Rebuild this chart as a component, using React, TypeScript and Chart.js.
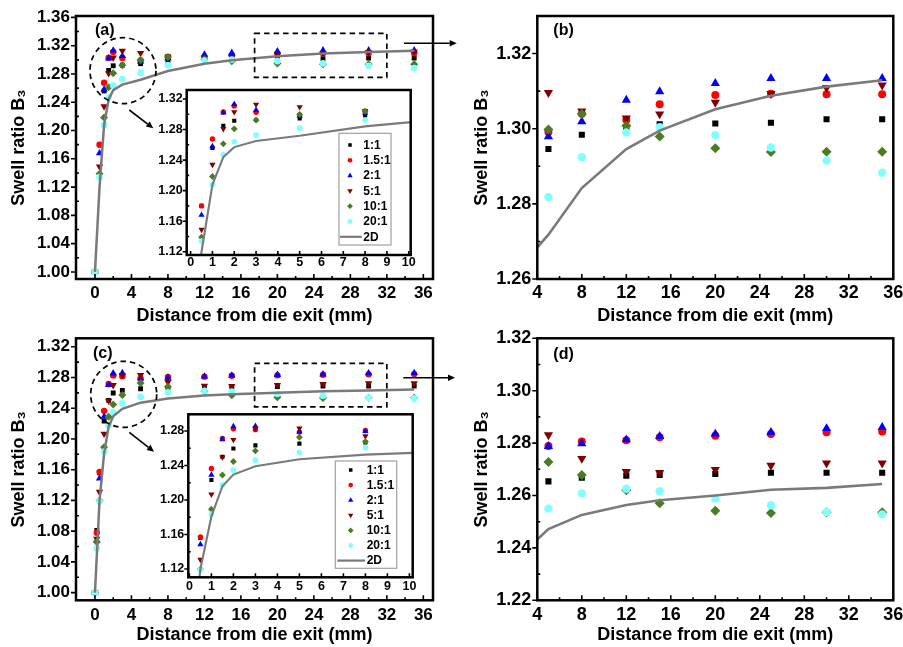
import React, { useEffect, useRef } from 'react';
import { Chart, registerables } from 'chart.js';

Chart.register(...registerables);

// ---------------- data ----------------
const SERIES_NAMES = ['1:1', '1.5:1', '2:1', '5:1', '10:1', '20:1'];
const LINE_NAME = '2D';

// upper row (a)/(b)
const X_TOP = [0, 0.5, 1, 1.5, 2, 3, 5, 8, 12, 15, 20, 25, 30, 35];
const TOP_1_1 = [1.0, 1.18, 1.256, 1.285, 1.2916, 1.2925, 1.2946, 1.2984, 1.3004, 1.3012, 1.3014, 1.3016, 1.3025, 1.3025];
const TOP_15_1 = [1.0, 1.18, 1.2676, 1.3031, 1.311, 1.3027, 1.2991, 1.304, 1.3024, 1.3065, 1.309, 1.3093, 1.3092, 1.3092];
const TOP_2_1 = [1.0, 1.168, 1.258, 1.302, 1.3133, 1.3055, 1.2979, 1.3019, 1.3076, 1.3099, 1.3121, 1.3134, 1.3134, 1.3134];
const TOP_5_1 = [1.0, 1.149, 1.234, 1.281, 1.303, 1.3128, 1.3096, 1.3047, 1.3028, 1.3039, 1.307, 1.3093, 1.3109, 1.3116];
const TOP_10_1 = [1.0, 1.139, 1.2185, 1.2613, 1.281, 1.2923, 1.2998, 1.3039, 1.3008, 1.2979, 1.2948, 1.2938, 1.2939, 1.2939];
const TOP_20_1 = [1.0, 1.134, 1.208, 1.247, 1.264, 1.2728, 1.2818, 1.2924, 1.299, 1.3004, 1.2983, 1.295, 1.2915, 1.2883];

// lower row (c)/(d)
const X_BOT = [0, 0.2, 0.5, 1, 1.5, 2, 3, 5, 8, 12, 15, 20, 25, 30, 35];
const BOT_1_1 = [1.0, 1.081, 1.156, 1.2232, 1.2502, 1.2598, 1.2633, 1.2654, 1.2668, 1.2676, 1.2678, 1.2682, 1.2687, 1.2687, 1.2687];
const BOT_15_1 = [1.0, 1.078, 1.1572, 1.2366, 1.2715, 1.2827, 1.2816, 1.2789, 1.2806, 1.2811, 1.2822, 1.2828, 1.2835, 1.2841, 1.2844];
const BOT_2_1 = [1.0, 1.068, 1.1486, 1.2292, 1.2703, 1.2854, 1.2858, 1.2788, 1.2798, 1.2813, 1.2826, 1.2835, 1.2841, 1.2856, 1.286];
const BOT_5_1 = [1.0, 1.07, 1.131, 1.2066, 1.2496, 1.2699, 1.2831, 1.2831, 1.2741, 1.2691, 1.2687, 1.2699, 1.2715, 1.2723, 1.2723];
const BOT_10_1 = [1.0, 1.066, 1.12, 1.1893, 1.229, 1.2447, 1.2571, 1.2728, 1.2678, 1.262, 1.257, 1.2542, 1.2533, 1.2536, 1.2536];
const BOT_20_1 = [1.0, 1.058, 1.119, 1.1836, 1.2176, 1.2346, 1.2462, 1.255, 1.2608, 1.2626, 1.2616, 1.2588, 1.2563, 1.2537, 1.2528];

// 2D simulation curves
const X_2D = [0, 0.5, 1, 1.5, 2, 3, 5, 8, 12, 15, 20, 25, 30, 35];
const TOP_2D = [1.0, 1.12, 1.208, 1.244, 1.257, 1.265, 1.2718, 1.2842, 1.2946, 1.2995, 1.3052, 1.3088, 1.3112, 1.3129];
const BOT_2D = [1.0, 1.12, 1.181, 1.216, 1.2295, 1.2392, 1.2472, 1.2526, 1.2564, 1.2582, 1.26, 1.2622, 1.2629, 1.2644];

// tick labels
const MAIN_X_TICKS = [0, 4, 8, 12, 16, 20, 24, 28, 32, 36];
const ZOOM_X_TICKS = [4, 8, 12, 16, 20, 24, 28, 32, 36];
const INSET_X_TICKS = [0, 1, 2, 3, 4, 5, 6, 7, 8, 9, 10];
const A_Y_TICKS = [1.0, 1.04, 1.08, 1.12, 1.16, 1.2, 1.24, 1.28, 1.32, 1.36];
const C_Y_TICKS = [1.0, 1.04, 1.08, 1.12, 1.16, 1.2, 1.24, 1.28, 1.32];
const B_Y_TICKS = [1.26, 1.28, 1.3, 1.32];
const D_Y_TICKS = [1.22, 1.24, 1.26, 1.28, 1.3, 1.32];
const INSET_A_Y_TICKS = [1.12, 1.16, 1.2, 1.24, 1.28, 1.32];
const INSET_C_Y_TICKS = [1.12, 1.16, 1.2, 1.24, 1.28];

const X_TITLE = 'Distance from die exit (mm)';
const Y_TITLE = 'Swell ratio B\u2083';

const TOP_SERIES = [TOP_1_1, TOP_15_1, TOP_2_1, TOP_5_1, TOP_10_1, TOP_20_1];
const BOT_SERIES = [BOT_1_1, BOT_15_1, BOT_2_1, BOT_5_1, BOT_10_1, BOT_20_1];

// ---------------- styles ----------------
const FONT = '"Liberation Sans", Arial, Helvetica, sans-serif';
const LINE_COLOR = '#7a7a7a';
type Sty = { color: string; shape: string; rot: number; r: number };
const STYLES: Sty[] = [
  { color: '#000000', shape: 'rect', rot: 0, r: 4.3 },
  { color: '#ff0000', shape: 'circle', rot: 0, r: 4.0 },
  { color: '#0000ff', shape: 'triangle', rot: 0, r: 5.3 },
  { color: '#800000', shape: 'triangle', rot: 180, r: 5.3 },
  { color: '#4a7d23', shape: 'rectRot', rot: 0, r: 5.0 },
  { color: '#80ffff', shape: 'circle', rot: 0, r: 4.2 },
];

interface Deco {
  label?: { text: string; x: number; y: number; size: number };
  rect?: { x1: number; y1: number; x2: number; y2: number };
  circle?: { cx: number; cy: number; r: number };
  arrows?: number[][];
  legend?: { bx: number; by: number; bw: number; bh: number; row0: number; step: number; symX: number; textX: number; lx1: number; lx2: number };
  whiteBg?: boolean;
}

interface PanelDef {
  id: string;
  left: number; top: number; w: number; h: number;
  padTop: number; padRight: number; yW: number; xH: number;
  xMin: number; xMax: number; yMin: number; yMax: number;
  xTicks: number[]; yTicks: number[];
  tickSize: number; xLabPad: number; yLabPad: number;
  titles: boolean; yTitlePad: number; xTitlePad: number;
  ms: number; lineW: number; majorLen: number; minorLen: number; frameW: number;
  xMinor: boolean;
  xs: number[]; series: number[][]; lineYs: number[];
  deco: Deco;
}

function mids(arr: number[]): number[] {
  const out: number[] = [];
  for (let i = 0; i < arr.length - 1; i++) out.push((arr[i] + arr[i + 1]) / 2);
  return out;
}

function drawMarker(ctx: CanvasRenderingContext2D, s: Sty, x: number, y: number, r: number) {
  ctx.fillStyle = s.color;
  ctx.beginPath();
  if (s.shape === 'rect') {
    const q = r * Math.SQRT1_2;
    ctx.rect(x - q, y - q, 2 * q, 2 * q);
  } else if (s.shape === 'circle') {
    ctx.arc(x, y, r, 0, Math.PI * 2);
  } else if (s.shape === 'triangle') {
    const sg = s.rot ? -1 : 1;
    ctx.moveTo(x, y - sg * r);
    ctx.lineTo(x + r * 0.866, y + (sg * r) / 2);
    ctx.lineTo(x - r * 0.866, y + (sg * r) / 2);
    ctx.closePath();
  } else {
    ctx.moveTo(x, y - r);
    ctx.lineTo(x + r, y);
    ctx.lineTo(x, y + r);
    ctx.lineTo(x - r, y);
    ctx.closePath();
  }
  ctx.fill();
}

function arrow(ctx: CanvasRenderingContext2D, x1: number, y1: number, x2: number, y2: number) {
  const head = 7, hw = 3.2;
  const a = Math.atan2(y2 - y1, x2 - x1);
  const c = Math.cos(a), s = Math.sin(a);
  ctx.beginPath();
  ctx.moveTo(x1, y1);
  ctx.lineTo(x2 - head * c, y2 - head * s);
  ctx.stroke();
  ctx.beginPath();
  ctx.moveTo(x2, y2);
  ctx.lineTo(x2 - head * c + hw * s, y2 - head * s - hw * c);
  ctx.lineTo(x2 - head * c - hw * s, y2 - head * s + hw * c);
  ctx.closePath();
  ctx.fill();
}

function makeConfig(p: PanelDef): any {
  const datasets: any[] = p.series.map((vals, i) => ({
    type: 'scatter',
    label: SERIES_NAMES[i],
    data: p.xs
      .map((x, j) => ({ x, y: vals[j] }))
      .filter((pt) => pt.x >= p.xMin && pt.x <= p.xMax && pt.y >= p.yMin && pt.y <= p.yMax),
    pointStyle: STYLES[i].shape,
    pointRotation: STYLES[i].rot,
    pointRadius: STYLES[i].r * p.ms,
    pointHoverRadius: STYLES[i].r * p.ms,
    pointBackgroundColor: STYLES[i].color,
    pointBorderColor: STYLES[i].color,
    pointBorderWidth: 0,
    backgroundColor: STYLES[i].color,
    borderColor: STYLES[i].color,
    showLine: false,
    order: 10 - i,
  }));
  datasets.push({
    type: 'line',
    label: LINE_NAME,
    data: X_2D.map((x, j) => ({ x, y: p.lineYs[j] })),
    borderColor: LINE_COLOR,
    borderWidth: p.lineW,
    pointRadius: 0,
    fill: false,
    tension: 0,
    order: 0,
  });

  const tickFont = { family: FONT, size: p.tickSize, weight: 'bold' as const };
  const titleFont = { family: FONT, size: 18, weight: 'bold' as const, lineHeight: 1 };
  const d = p.deco;

  const decoPlugin = {
    id: 'deco_' + p.id,
    beforeDatasetsDraw(chart: any) {
      if (!d.whiteBg) return;
      const a = chart.chartArea;
      const ctx = chart.ctx;
      ctx.save();
      ctx.fillStyle = '#ffffff';
      ctx.fillRect(a.left, a.top, a.right - a.left, a.bottom - a.top);
      ctx.restore();
    },
    afterDatasetsDraw(chart: any) {
      const ctx: CanvasRenderingContext2D = chart.ctx;
      const a = chart.chartArea;
      const xs = chart.scales.x;
      const ys = chart.scales.y;
      ctx.save();
      ctx.strokeStyle = '#000';
      ctx.fillStyle = '#000';
      // dashed zoom box and circle
      if (d.rect || d.circle) {
        ctx.lineWidth = 1.7;
        ctx.setLineDash([5.5, 4]);
        if (d.rect) {
          const x1 = xs.getPixelForValue(d.rect.x1), x2 = xs.getPixelForValue(d.rect.x2);
          const y1 = ys.getPixelForValue(d.rect.y1), y2 = ys.getPixelForValue(d.rect.y2);
          ctx.strokeRect(x1, y1, x2 - x1, y2 - y1);
        }
        if (d.circle) {
          ctx.beginPath();
          ctx.arc(xs.getPixelForValue(d.circle.cx), ys.getPixelForValue(d.circle.cy), d.circle.r, 0, Math.PI * 2);
          ctx.stroke();
        }
        ctx.setLineDash([]);
      }
      // ticks
      ctx.lineWidth = 1.6;
      ctx.beginPath();
      for (const v of p.xTicks) {
        const px = xs.getPixelForValue(v);
        if (px < a.left - 0.5 || px > a.right + 0.5) continue;
        ctx.moveTo(px, a.bottom);
        ctx.lineTo(px, a.bottom - p.majorLen);
      }
      if (p.xMinor) {
        for (const v of mids(p.xTicks)) {
          const px = xs.getPixelForValue(v);
          ctx.moveTo(px, a.bottom);
          ctx.lineTo(px, a.bottom - p.minorLen);
        }
      }
      for (const v of p.yTicks) {
        const py = ys.getPixelForValue(v);
        ctx.moveTo(a.left, py);
        ctx.lineTo(a.left - p.majorLen, py);
      }
      for (const v of mids(p.yTicks)) {
        const py = ys.getPixelForValue(v);
        ctx.moveTo(a.left, py);
        ctx.lineTo(a.left + p.minorLen, py);
      }
      ctx.stroke();
      // frame
      ctx.lineWidth = p.frameW;
      ctx.strokeRect(a.left, a.top, a.right - a.left, a.bottom - a.top);
      // arrows
      if (d.arrows) {
        ctx.lineWidth = 1.6;
        for (const ar of d.arrows) arrow(ctx, ar[0], ar[1], ar[2], ar[3]);
      }
      // panel label
      if (d.label) {
        ctx.font = `bold ${d.label.size}px ${FONT}`;
        ctx.textAlign = 'left';
        ctx.textBaseline = 'alphabetic';
        ctx.fillText(d.label.text, d.label.x, d.label.y);
      }
      // legend
      if (d.legend) {
        const L = d.legend;
        ctx.fillStyle = '#ffffff';
        ctx.fillRect(L.bx, L.by, L.bw, L.bh);
        ctx.strokeStyle = '#a0a0a0';
        ctx.lineWidth = 1.2;
        ctx.strokeRect(L.bx, L.by, L.bw, L.bh);
        ctx.font = `bold 12px ${FONT}`;
        ctx.textAlign = 'left';
        ctx.textBaseline = 'middle';
        SERIES_NAMES.forEach((name, i) => {
          const ry = L.row0 + i * L.step;
          drawMarker(ctx, STYLES[i], L.symX, ry, STYLES[i].r * 0.58);
          ctx.fillStyle = '#000';
          ctx.fillText(name, L.textX, ry + 0.5);
        });
        const ly = L.row0 + 6 * L.step;
        ctx.strokeStyle = LINE_COLOR;
        ctx.lineWidth = 2.2;
        ctx.beginPath();
        ctx.moveTo(L.lx1, ly);
        ctx.lineTo(L.lx2, ly);
        ctx.stroke();
        ctx.fillStyle = '#000';
        ctx.fillText(LINE_NAME, L.textX, ly + 0.5);
      }
      ctx.restore();
    },
  };

  return {
    type: 'scatter',
    data: { datasets },
    options: {
      responsive: false,
      maintainAspectRatio: false,
      animation: false,
      events: [],
      layout: { padding: { top: p.padTop, right: p.padRight, left: 0, bottom: 0 } },
      plugins: { legend: { display: false }, tooltip: { enabled: false } },
      scales: {
        x: {
          type: 'linear',
          position: 'bottom',
          min: p.xMin,
          max: p.xMax,
          afterBuildTicks: (s: any) => {
            s.ticks = p.xTicks.map((v) => ({ value: v }));
          },
          afterFit: (s: any) => {
            s.height = p.xH;
          },
          grid: { display: false, drawTicks: false },
          border: { display: false },
          ticks: {
            font: tickFont,
            color: '#000',
            padding: p.xLabPad,
            autoSkip: false,
            maxRotation: 0,
            minRotation: 0,
            callback: (v: any) => String(Math.round(Number(v))),
          },
          title: p.titles
            ? { display: true, text: X_TITLE, color: '#000', font: titleFont, padding: { top: 0, bottom: p.xTitlePad } }
            : { display: false },
        },
        y: {
          type: 'linear',
          position: 'left',
          min: p.yMin,
          max: p.yMax,
          afterBuildTicks: (s: any) => {
            s.ticks = p.yTicks.map((v) => ({ value: v }));
          },
          afterFit: (s: any) => {
            s.width = p.yW;
          },
          grid: { display: false, drawTicks: false },
          border: { display: false },
          ticks: {
            font: { ...tickFont, lineHeight: 0.5 },
            color: '#000',
            padding: p.yLabPad,
            autoSkip: false,
            callback: (v: any) => Number(v).toFixed(2),
          },
          title: p.titles
            ? { display: true, text: Y_TITLE, color: '#000', font: titleFont, padding: { top: p.yTitlePad, bottom: 0 } }
            : { display: false },
        },
      },
    },
    plugins: [decoPlugin],
  };
}

const MAIN_COMMON = {
  tickSize: 17, yLabPad: 6, titles: true, yTitlePad: 10, ms: 0.8, lineW: 2.5,
  majorLen: 5, minorLen: 3, frameW: 2.5, xMinor: true,
};
const ZOOM_COMMON = {
  tickSize: 18, yLabPad: 6, titles: true, yTitlePad: 13, ms: 1, lineW: 2.6,
  majorLen: 5, minorLen: 3, frameW: 2.5, xMinor: true,
};
const INSET_COMMON = {
  tickSize: 12.5, yLabPad: 4, titles: false, yTitlePad: 0, xTitlePad: 0, ms: 0.68, lineW: 2.1,
  majorLen: 4, minorLen: 2.5, frameW: 2.5, xMinor: false,
};

const PANELS: PanelDef[] = [
  {
    id: 'a', left: 0, top: 0, w: 460, h: 325, padTop: 16, padRight: 27, yW: 76, xH: 46,
    xMin: -2.08, xMax: 37.06, yMin: 0.99, yMax: 1.362, xTicks: MAIN_X_TICKS, yTicks: A_Y_TICKS,
    xLabPad: 4, xTitlePad: 0, ...MAIN_COMMON,
    xs: X_TOP, series: TOP_SERIES, lineYs: TOP_2D,
    deco: {
      label: { text: '(a)', x: 95, y: 34.5, size: 16 },
      rect: { x1: 17.5, y1: 1.3375, x2: 32, y2: 1.2753 },
      circle: { cx: 3.07, cy: 1.2847, r: 33 },
      arrows: [[404, 43.3, 456.7, 43.3], [129.3, 110, 153.3, 128.3]],
    },
  },
  {
    id: 'b', left: 460, top: 0, w: 460, h: 325, padTop: 16, padRight: 26.7, yW: 77.3, xH: 46,
    xMin: 4, xMax: 36, yMin: 1.26, yMax: 1.33, xTicks: ZOOM_X_TICKS, yTicks: B_Y_TICKS,
    xLabPad: 3.5, xTitlePad: 0, ...ZOOM_COMMON,
    xs: X_TOP, series: TOP_SERIES, lineYs: TOP_2D,
    deco: { label: { text: '(b)', x: 93.3, y: 34.5, size: 16 } },
  },
  {
    id: 'c', left: 0, top: 325, w: 460, h: 322, padTop: 13.3, padRight: 27, yW: 76, xH: 46.7,
    xMin: -2.08, xMax: 37.06, yMin: 0.99, yMax: 1.331, xTicks: MAIN_X_TICKS, yTicks: C_Y_TICKS,
    xLabPad: 4.5, xTitlePad: 3, ...MAIN_COMMON,
    xs: X_BOT, series: BOT_SERIES, lineYs: BOT_2D,
    deco: {
      label: { text: '(c)', x: 93, y: 33, size: 16 },
      rect: { x1: 17.5, y1: 1.2984, x2: 32, y2: 1.2418 },
      circle: { cx: 3.15, cy: 1.2581, r: 33 },
      arrows: [[403.3, 52.7, 455, 52.7], [129.3, 107.3, 154, 126.7]],
    },
  },
  {
    id: 'd', left: 460, top: 325, w: 460, h: 322, padTop: 13.3, padRight: 26.7, yW: 77.3, xH: 46.7,
    xMin: 4, xMax: 36, yMin: 1.22, yMax: 1.32, xTicks: ZOOM_X_TICKS, yTicks: D_Y_TICKS,
    xLabPad: 4, xTitlePad: 3, ...ZOOM_COMMON,
    xs: X_BOT, series: BOT_SERIES, lineYs: BOT_2D,
    deco: { label: { text: '(d)', x: 93.3, y: 33.5, size: 16 } },
  },
  {
    id: 'ia', left: 150, top: 80, w: 270, h: 200, padTop: 10, padRight: 9.3, yW: 36.7, xH: 25,
    xMin: -0.18, xMax: 10.09, yMin: 1.1157, yMax: 1.3318, xTicks: INSET_X_TICKS, yTicks: INSET_A_Y_TICKS,
    xLabPad: 0.5, ...INSET_COMMON,
    xs: X_TOP, series: TOP_SERIES, lineYs: TOP_2D,
    deco: {
      whiteBg: true,
      legend: { bx: 189, by: 53.3, bw: 52, bh: 111.7, row0: 65, step: 15.3, symX: 200, textX: 213.3, lx1: 190, lx2: 211.7 },
    },
  },
  {
    id: 'ic', left: 150, top: 400, w: 270, h: 200, padTop: 14.3, padRight: 7.3, yW: 38.3, xH: 22.7,
    xMin: -0.05, xMax: 10.15, yMin: 1.1104, yMax: 1.2994, xTicks: INSET_X_TICKS, yTicks: INSET_C_Y_TICKS,
    xLabPad: 2, ...INSET_COMMON,
    xs: X_BOT, series: BOT_SERIES, lineYs: BOT_2D,
    deco: {
      whiteBg: true,
      legend: { bx: 185.3, by: 61, bw: 61.4, bh: 107.3, row0: 70, step: 15.1, symX: 200.7, textX: 216.7, lx1: 187.3, lx2: 215 },
    },
  },
];

function Panel({ def }: { def: PanelDef }) {
  const ref = useRef<HTMLCanvasElement>(null);
  useEffect(() => {
    const chart = new Chart(ref.current as HTMLCanvasElement, makeConfig(def));
    return () => chart.destroy();
  }, [def]);
  return (
    <canvas
      ref={ref}
      width={def.w}
      height={def.h}
      style={{ position: 'absolute', left: def.left, top: def.top, width: def.w, height: def.h }}
    />
  );
}

export default function App() {
  return (
    <div
      style={{
        position: 'fixed', left: 0, top: 0, width: 903, height: 647,
        overflow: 'hidden', background: '#ffffff',
      }}
    >
      {PANELS.map((d) => (
        <Panel key={d.id} def={d} />
      ))}
    </div>
  );
}
